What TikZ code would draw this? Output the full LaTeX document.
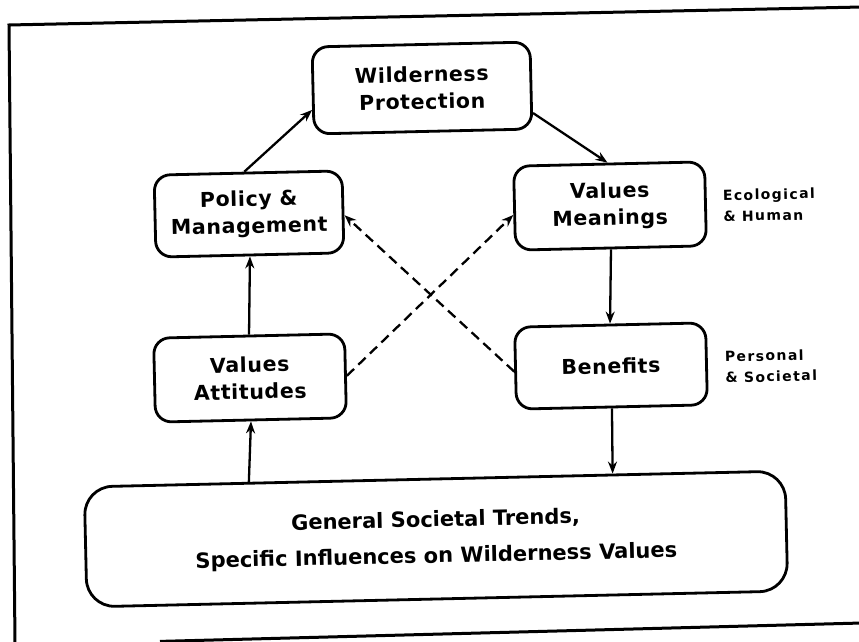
\documentclass[tikz,border=0pt]{standalone}
\usepackage{fontspec}
\setmainfont{DejaVu Sans}
\newfontfamily\boxfont{DejaVu Sans}[LetterSpace=3]
\newfontfamily\sidefont{DejaVu Sans}[LetterSpace=10]
\usetikzlibrary{arrows.meta,calc}
\tikzset{
  box/.style={draw, line width=2.8pt, rounded corners=16pt, rotate=1.3, align=center, inner sep=0pt,
    font=\boxfont\bfseries\fontsize{20.5}{27}\selectfont},
  genbox/.style={box, rounded corners=28pt, font=\bfseries\fontsize{21}{36}\selectfont},
  conn/.style={line width=2.3pt, -{Stealth[length=12pt,width=9pt]}},
  dconn/.style={conn, dash pattern=on 10pt off 6pt},
  side/.style={rotate=1.3, align=left, anchor=west, inner sep=0pt,
    font=\sidefont\bfseries\fontsize{14}{21}\selectfont},
  frame/.style={line width=3pt}
}
\begin{document}
\begin{tikzpicture}[x=1pt,y=1pt]
\useasboundingbox (0,0) rectangle (859,641);
\fill[white] (0,0) rectangle (859,641);
% frame
\draw[frame] (862,634) -- (9,616) -- (15,-2);
\draw[frame] (160,-0.4) -- (862,18);
% nodes
\node[box, minimum width=218pt, minimum height=87pt] (wp) at (422,553) {Wilderness\\Protection};
\node[box, minimum width=188pt, minimum height=82pt] (pm) at (249,427) {Policy \&\\Management};
\node[box, minimum width=191pt, minimum height=84pt] (vm) at (610,435) {Values\\Meanings};
\node[box, minimum width=191pt, minimum height=82pt] (ben) at (611,275) {Benefits};
\node[box, minimum width=191pt, minimum height=84pt] (va) at (250,263) {Values\\Attitudes};
\node[genbox, minimum width=701pt, minimum height=120pt] (gen) at (436,102)
  {General Societal Trends,\\Specific Influences on Wilderness Values};
\node[side] (eco) at (723,435) {Ecological\\\& Human};
\node[side] (per) at (725,274) {Personal\\\& Societal};
% points on the top of the base box
\coordinate (g1) at ($(gen.north west)!0.236!(gen.north east)$);
\coordinate (g2) at ($(gen.north west)!0.753!(gen.north east)$);
% connectors
\draw[conn] (pm.95) -- (wp.190);
\draw[conn] (wp.-14) -- (vm.92);
\draw[conn] (vm.south) -- (ben.north);
\draw[conn] (ben.south) -- (g2);
\draw[conn] (g1) -- (va.south);
\draw[conn] (va.north) -- (pm.south);
\draw[dconn] (va.east) -- (vm.184);
\draw[dconn] (ben.182) -- (pm.-2);
\end{tikzpicture}
\end{document}
